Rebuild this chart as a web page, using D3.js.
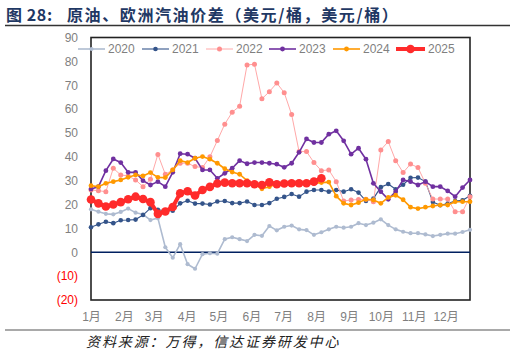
<!DOCTYPE html>
<html><head><meta charset="utf-8">
<script src="https://cdn.jsdelivr.net/npm/d3@7"></script>
<style>
body{margin:0;background:#fff;}
svg{display:block;}
</style></head>
<body>
<svg id="c" width="515" height="355"></svg>
<script>
const titleBold = "图 28:";
const titleRest = "原油、欧洲汽油价差（美元/桶，美元/桶）";
const sourceText = "资料来源：万得，信达证券研发中心";
const monthLabels = ["1月","2月","3月","4月","5月","6月","7月","8月","9月","10月","11月","12月"];
const monthDays = [31,28,31,30,31,30,31,31,30,31,30,31];
const yTicks = [-20,-10,0,10,20,30,40,50,60,70,80,90];
const seriesNames = ["2020","2021","2022","2023","2024","2025"];

const s2020 = [18.0,17.0,16.1,15.9,16.9,18.3,16.6,15.9,13.5,14.3,2.1,-2.3,3.4,-5.0,-6.9,-0.8,-0.4,-0.6,5.5,6.3,5.5,4.7,7.3,6.9,11.0,9.2,10.7,11.2,9.6,9.3,7.3,8.4,9.6,10.7,10.3,10.7,12.2,11.4,12.4,13.8,11.4,9.6,8.6,8.0,8.0,7.5,6.8,7.3,7.8,7.8,8.5,9.4];
const s2021 = [10.5,11.7,12.8,12.2,13.4,13.5,13.7,15.6,18.5,17.8,17.4,17.4,20.5,21.6,20.4,20.4,20.0,21.3,21.5,20.6,20.6,21.3,19.8,19.8,20.6,22.4,23.2,24.4,23.3,25.4,26.1,26.1,25.4,26.1,25.4,26.4,25.0,21.5,22.5,27.3,28.6,26.4,28.3,31.2,31.3,29.6,21.1,19.7,20.4,21.5,21.8,23.7];
const s2022 = [26.1,25.8,25.4,35.2,32.4,32.0,30.3,27.5,30.6,41.0,32.7,34.5,37.3,37.3,35.9,35.5,40.0,46.8,53.7,58.7,61.2,78.5,78.8,64.3,67.3,70.9,66.9,57.7,42.2,42.2,37.6,34.2,34.5,29.6,21.5,21.9,22.1,22.2,21.2,42.9,46.4,38.4,33.4,37.0,35.5,28.9,22.3,22.3,22.3,17.0,17.0,23.3];
const s2023 = [26.5,27.5,34.2,39.1,37.6,33.5,33.5,30.0,28.2,29.6,27.5,33.5,41.3,41.1,39.4,34.5,34.5,31.0,33.1,35.2,38.4,37.1,37.6,37.6,37.3,36.9,35.6,37.3,41.9,47.5,46.0,46.0,49.5,50.9,46.7,41.1,43.6,39.0,28.9,25.4,22.2,25.4,30.3,29.6,28.2,29.6,27.5,27.5,25.7,23.3,27.1,30.3];
const s2024 = [27.9,27.5,28.9,29.6,30.3,31.4,32.4,32.0,33.4,31.4,31.3,34.5,38.4,37.6,39.4,40.1,39.0,37.3,35.0,33.6,32.7,30.0,28.5,26.6,27.5,28.6,28.9,28.9,28.9,28.9,28.9,29.2,29.4,23.5,20.5,19.8,20.8,22.2,21.9,20.5,23.0,23.9,22.0,18.9,18.3,18.9,19.4,19.8,19.8,21.2,21.2,21.2];
const s2025 = [22.1,20.5,19.2,20.0,21.0,22.2,23.3,22.3,21.0,16.1,17.1,19.0,24.7,25.6,23.8,26.1,27.4,28.8,29.2,28.9,28.9,28.9,28.5,28.2,29.3,28.5,28.8,28.9,28.9,28.9,29.6,31.0];

const seriesData = [s2020,s2021,s2022,s2023,s2024,s2025];
const styles = [
  {color:"#AEBBD0", width:1.6, r:2.1},
  {color:"#34548A", width:1.1, r:2.3},
  {color:"#FF8F8F", width:1.0, r:2.5, line:"#FFA8A8"},
  {color:"#7030A0", width:1.6, r:2.4},
  {color:"#FF9900", width:1.6, r:2.4},
  {color:"#FF2B2B", width:4.0, r:4.3}
];

const svg = d3.select("#c");
const L=91, R=470, T=37.5, B=300;
const nWeeks = 52;
const x = d3.scaleLinear().domain([0, nWeeks-1]).range([L, R]);
const y = d3.scaleLinear().domain([-20, 90]).range([B, T]);

// title
const tt = svg.append("text").attr("x",6).attr("y",21).attr("fill","#1F3864")
  .style("font-family","'Noto Sans CJK SC','Liberation Sans',sans-serif").style("font-size","16px").style("font-weight","700");
tt.append("tspan").style("letter-spacing","0.6px").text(titleBold);
tt.append("tspan").attr("x",67).style("letter-spacing","1.6px").text(titleRest);
svg.append("line").attr("x1",5).attr("x2",510).attr("y1",25.5).attr("y2",25.5).attr("stroke","#333").attr("stroke-width",1.5);

// y axis labels
const yAxis = d3.axisLeft(y).tickValues(yTicks).tickSize(0).tickPadding(13)
  .tickFormat(d => d < 0 ? "(" + Math.abs(d) + ")" : d);
const yg = svg.append("g").attr("transform",`translate(${L},0)`).call(yAxis);
yg.select(".domain").remove();
yg.selectAll("text").style("font-family","'Liberation Sans',sans-serif").style("font-size","12px")
  .attr("fill", d => d < 0 ? "#FF0000" : "#7F7F7F");

// x labels at month starts (week positions)
let cum = 0;
const monthPos = monthDays.map(d => { const p = cum/7; cum += d; return p; });
const xAxis = d3.axisBottom(x).tickValues(monthPos).tickSize(0).tickPadding(12)
  .tickFormat((d,i) => monthLabels[i]);
const xg = svg.append("g").attr("transform",`translate(0,${B})`).call(xAxis);
xg.select(".domain").remove();
xg.selectAll("text").style("font-family","'Liberation Sans','Noto Sans CJK SC',sans-serif").style("font-size","12px").attr("fill","#7F7F7F");

// frame
svg.append("rect").attr("x",L).attr("y",T).attr("width",R-L).attr("height",B-T)
  .attr("fill","none").attr("stroke","#222").attr("stroke-width",1.6);
// zero line
svg.append("line").attr("x1",L).attr("x2",R).attr("y1",y(0)).attr("y2",y(0)).attr("stroke","#002060").attr("stroke-width",1.6);

// series
const line = d3.line().x((d,i)=>x(i)).y(d=>y(d));
seriesData.forEach((data,k)=>{
  const st = styles[k];
  const g = svg.append("g");
  g.append("path").datum(data).attr("d",line).attr("fill","none")
    .attr("stroke",st.line||st.color).attr("stroke-width",st.width).attr("stroke-linejoin","round");
  g.selectAll("circle").data(data).enter().append("circle")
    .attr("cx",(d,i)=>x(i)).attr("cy",d=>y(d)).attr("r",st.r).attr("fill",st.color);
});

// legend
const legX = [78,142,206,269,333,396];
const lg = svg.append("g");
seriesNames.forEach((nm,k)=>{
  const st = styles[k];
  const x0 = legX[k], len = k===5 ? 29 : 27, ly = 49;
  lg.append("line").attr("x1",x0).attr("x2",x0+len).attr("y1",ly).attr("y2",ly)
    .attr("stroke",st.line||st.color).attr("stroke-width",st.width);
  lg.append("circle").attr("cx",x0+len/2).attr("cy",ly).attr("r",st.r).attr("fill",st.color);
  lg.append("text").attr("x",x0+len+3).attr("y",ly+4.3).text(nm)
    .style("font-family","'Liberation Sans',sans-serif").style("font-size","12px").attr("fill","#7F7F7F");
});

// footer
svg.append("line").attr("x1",5).attr("x2",510).attr("y1",330).attr("y2",330).attr("stroke","#555").attr("stroke-width",1.2);
svg.append("text").attr("x",86).attr("y",347).text(sourceText)
  .style("font-family","'Noto Sans CJK SC',sans-serif").style("font-size","14px").style("font-style","italic")
  .style("letter-spacing","1.9px").attr("fill","#222");
</script>
</body></html>
